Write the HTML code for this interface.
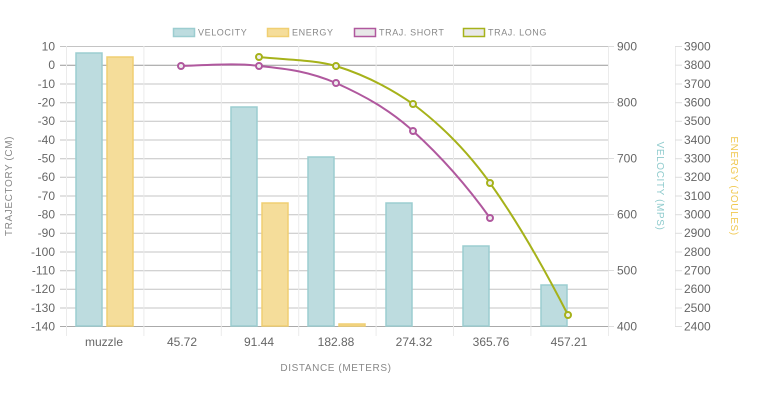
<!DOCTYPE html>
<html><head><meta charset="utf-8"><style>
body{margin:0;background:#fff;}
svg{display:block;font-family:"Liberation Sans",sans-serif;}
.t{font-size:12px;fill:#666;}
.l{font-size:9px;fill:#888;letter-spacing:0.6px;}
</style></head><body>
<svg width="765" height="414" viewBox="0 0 765 414">
<rect x="173.5" y="28.5" width="21" height="8" fill="#bddcdf" stroke="#9ccdd0" stroke-width="1.5"/>
<text class="l" x="198" y="35.5">VELOCITY</text>
<rect x="267.5" y="28.5" width="21" height="8" fill="#f5dd9a" stroke="#f0cf72" stroke-width="1.5"/>
<text class="l" x="292" y="35.5">ENERGY</text>
<rect x="354.5" y="28.5" width="21" height="8" fill="#e8e8e8" stroke="#b0589e" stroke-width="1.5"/>
<text class="l" x="379" y="35.5">TRAJ. SHORT</text>
<rect x="463.5" y="28.5" width="21" height="8" fill="#e8e8e8" stroke="#a6b21a" stroke-width="1.5"/>
<text class="l" x="488" y="35.5">TRAJ. LONG</text>

<g stroke="#c4c4c4" stroke-width="1">
<line x1="60" x2="608" y1="46.5" y2="46.5"/>
<line x1="60" x2="608" y1="84" y2="84"/><line x1="60" x2="608" y1="102.7" y2="102.7"/>
<line x1="60" x2="608" y1="121.3" y2="121.3"/><line x1="60" x2="608" y1="140" y2="140"/>
<line x1="60" x2="608" y1="158.7" y2="158.7"/><line x1="60" x2="608" y1="177.3" y2="177.3"/>
<line x1="60" x2="608" y1="196" y2="196"/><line x1="60" x2="608" y1="214.7" y2="214.7"/>
<line x1="60" x2="608" y1="233.3" y2="233.3"/><line x1="60" x2="608" y1="252" y2="252"/>
<line x1="60" x2="608" y1="270.7" y2="270.7"/><line x1="60" x2="608" y1="289.3" y2="289.3"/>
<line x1="60" x2="608" y1="308" y2="308"/>
</g>
<line x1="60" x2="608" y1="65.2" y2="65.2" stroke="#999"/>
<line x1="60" x2="608" y1="326.5" y2="326.5" stroke="#aaa"/>
<g stroke="#ebebeb">
<line x1="66.5" x2="66.5" y1="46" y2="336"/><line x1="143.9" x2="143.9" y1="46" y2="336"/>
<line x1="221.3" x2="221.3" y1="46" y2="336"/><line x1="298.7" x2="298.7" y1="46" y2="336"/>
<line x1="376.1" x2="376.1" y1="46" y2="336"/><line x1="453.5" x2="453.5" y1="46" y2="336"/>
<line x1="530.9" x2="530.9" y1="46" y2="336"/><line x1="608.5" x2="608.5" y1="46" y2="336"/>
<line x1="675.5" x2="675.5" y1="46" y2="326"/>
</g>
<g stroke="#ddd">
<line x1="608" x2="614" y1="46.5" y2="46.5"/><line x1="608" x2="614" y1="102.5" y2="102.5"/>
<line x1="608" x2="614" y1="158.5" y2="158.5"/><line x1="608" x2="614" y1="214.5" y2="214.5"/>
<line x1="608" x2="614" y1="270.5" y2="270.5"/><line x1="608" x2="614" y1="326.5" y2="326.5"/>
</g>
<g stroke="#ddd">
<line x1="675" x2="682" y1="46.5" y2="46.5"/><line x1="675" x2="682" y1="65.2" y2="65.2"/>
<line x1="675" x2="682" y1="84" y2="84"/><line x1="675" x2="682" y1="102.7" y2="102.7"/>
<line x1="675" x2="682" y1="121.3" y2="121.3"/><line x1="675" x2="682" y1="140" y2="140"/>
<line x1="675" x2="682" y1="158.7" y2="158.7"/><line x1="675" x2="682" y1="177.3" y2="177.3"/>
<line x1="675" x2="682" y1="196" y2="196"/><line x1="675" x2="682" y1="214.7" y2="214.7"/>
<line x1="675" x2="682" y1="233.3" y2="233.3"/><line x1="675" x2="682" y1="252" y2="252"/>
<line x1="675" x2="682" y1="270.7" y2="270.7"/><line x1="675" x2="682" y1="289.3" y2="289.3"/>
<line x1="675" x2="682" y1="308" y2="308"/><line x1="675" x2="682" y1="326.5" y2="326.5"/>
</g>
<g fill="#bddcdf" stroke="#9ccdd0" stroke-width="1.5">
<rect x="76" y="53" width="26" height="273"/>
<rect x="231" y="107" width="26" height="219"/>
<rect x="308" y="157" width="26" height="169"/>
<rect x="386" y="203" width="26" height="123"/>
<rect x="463" y="246" width="26" height="80"/>
<rect x="541" y="285" width="26" height="41"/>
</g>
<g fill="#f5dd9a" stroke="#f0cf72" stroke-width="1.5">
<rect x="107" y="57" width="26" height="269"/>
<rect x="262" y="203" width="26" height="123"/>
<rect x="339" y="324" width="26" height="2"/>
</g>
<path d="M181,66 C210,65 240,63 259,66 C290,69 310,72 336,83 C365,96 390,110 413,131 C445,160 470,190 490,218" fill="none" stroke="#b0589e" stroke-width="2"/>
<path d="M259,57 C290,60 315,60 336,66 C365,75 390,88 413,104 C445,128 470,155 490,183 C520,225 545,270 568,315" fill="none" stroke="#a6b21a" stroke-width="2"/>
<g fill="#eee" stroke="#b0589e" stroke-width="2">
<circle cx="181" cy="66" r="3"/><circle cx="259" cy="66" r="3"/><circle cx="336" cy="83" r="3"/><circle cx="413" cy="131" r="3"/><circle cx="490" cy="218" r="3"/>
</g>
<g fill="#eee" stroke="#a6b21a" stroke-width="2">
<circle cx="259" cy="57" r="3"/><circle cx="336" cy="66" r="3"/><circle cx="413" cy="104" r="3"/><circle cx="490" cy="183" r="3"/><circle cx="568" cy="315" r="3"/>
</g>
<g class="t" text-anchor="end">
<text x="55" y="50.5">10</text><text x="55" y="69">0</text><text x="55" y="88">-10</text>
<text x="55" y="106.5">-20</text><text x="55" y="125">-30</text><text x="55" y="144">-40</text>
<text x="55" y="162.5">-50</text><text x="55" y="181">-60</text><text x="55" y="200">-70</text>
<text x="55" y="218.5">-80</text><text x="55" y="237">-90</text><text x="55" y="256">-100</text>
<text x="55" y="274.5">-110</text><text x="55" y="293">-120</text><text x="55" y="312">-130</text>
<text x="55" y="330.5">-140</text>
</g>
<text class="l" transform="translate(12,186) rotate(-90)" text-anchor="middle" style="font-size:10px">TRAJECTORY (CM)</text>
<g class="t">
<text x="617" y="50.5">900</text><text x="617" y="106.5">800</text><text x="617" y="162.5">700</text>
<text x="617" y="218.5">600</text><text x="617" y="274.5">500</text><text x="617" y="330.5">400</text>
</g>
<text transform="translate(657,186) rotate(90)" text-anchor="middle" style="font-size:10px;fill:#8fcbcd;letter-spacing:0.6px">VELOCITY (MPS)</text>
<g class="t">
<text x="684" y="50.5">3900</text><text x="684" y="69">3800</text><text x="684" y="88">3700</text>
<text x="684" y="106.5">3600</text><text x="684" y="125">3500</text><text x="684" y="144">3400</text>
<text x="684" y="162.5">3300</text><text x="684" y="181">3200</text><text x="684" y="200">3100</text>
<text x="684" y="218.5">3000</text><text x="684" y="237">2900</text><text x="684" y="256">2800</text>
<text x="684" y="274.5">2700</text><text x="684" y="293">2600</text><text x="684" y="312">2500</text>
<text x="684" y="330.5">2400</text>
</g>
<text transform="translate(731,186) rotate(90)" text-anchor="middle" style="font-size:10px;fill:#f0c850;letter-spacing:0.6px">ENERGY (JOULES)</text>
<g class="t" text-anchor="middle">
<text x="104" y="346">muzzle</text><text x="182" y="346">45.72</text><text x="259" y="346">91.44</text>
<text x="336" y="346">182.88</text><text x="414" y="346">274.32</text><text x="491" y="346">365.76</text>
<text x="569" y="346">457.21</text>
</g>
<text x="336" y="371" text-anchor="middle" style="font-size:10px;fill:#888;letter-spacing:0.6px">DISTANCE (METERS)</text>
</svg>
</body></html>
